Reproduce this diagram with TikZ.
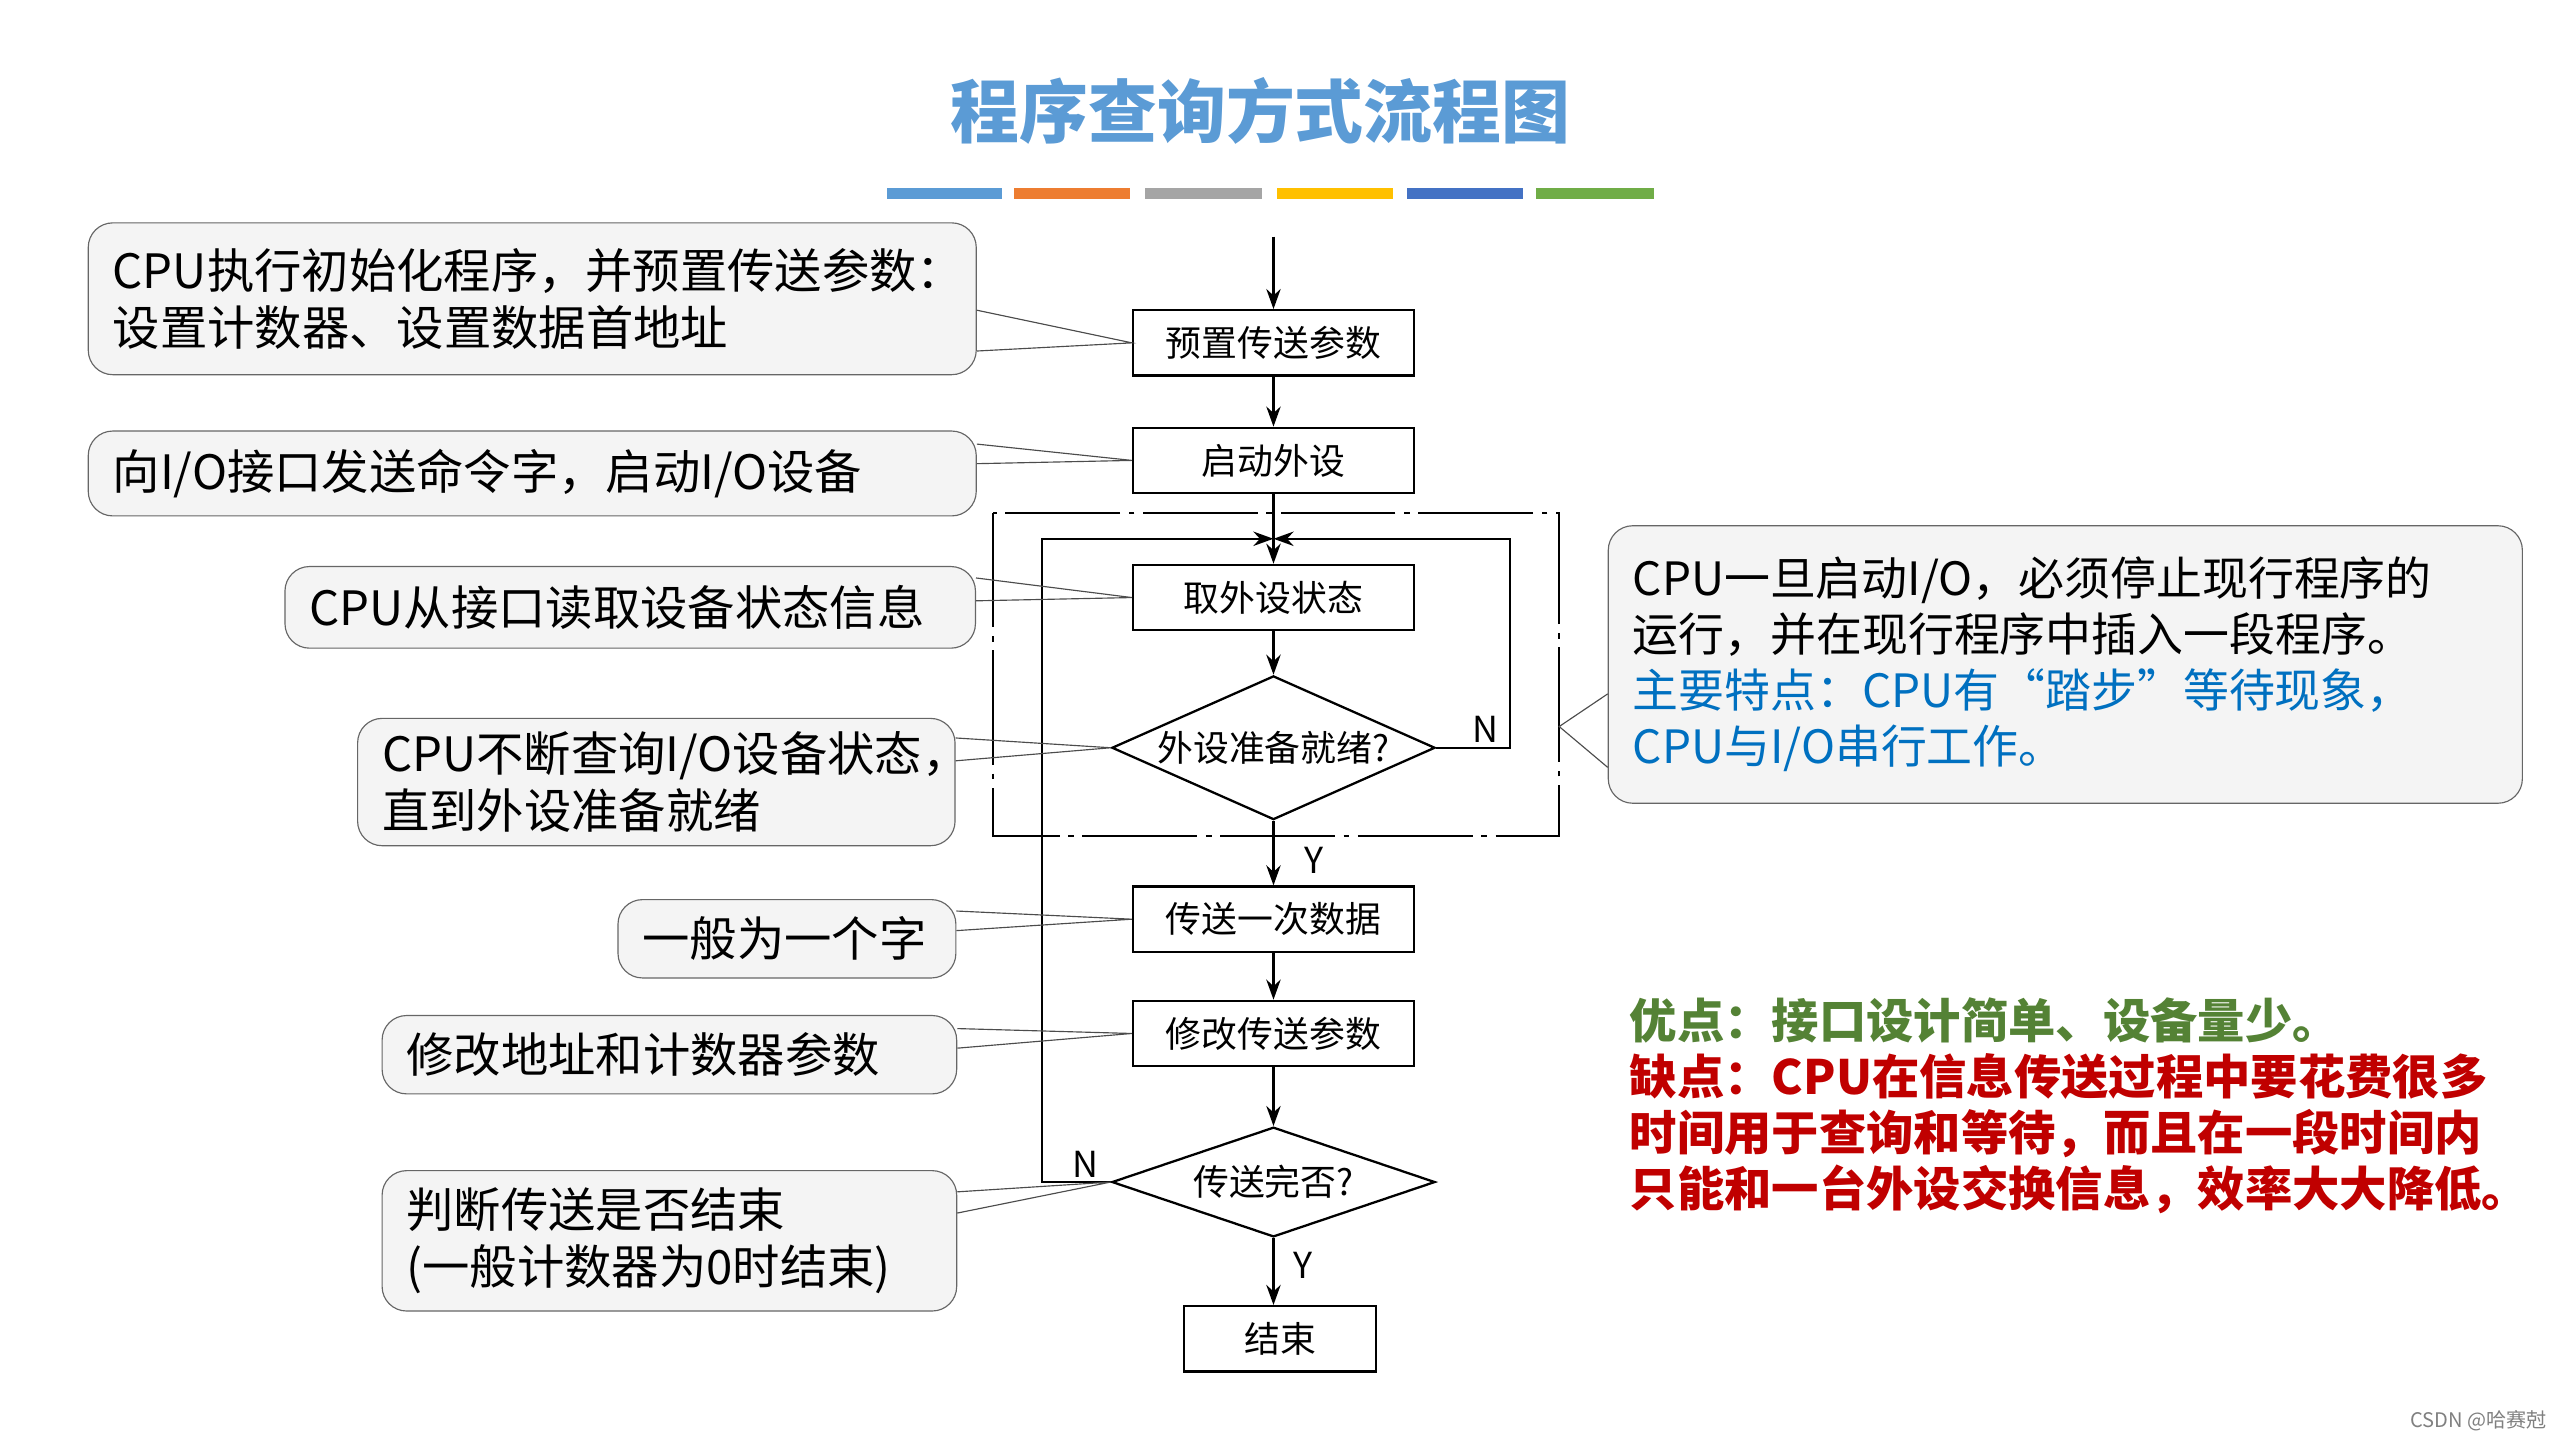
\documentclass[tikz,border=0pt]{standalone}
\usepackage{fontspec}
\setmainfont{Noto Sans CJK SC}
\usetikzlibrary{shapes.geometric,arrows.meta}
\definecolor{titleblue}{RGB}{91,155,213}
\definecolor{bar1}{RGB}{91,155,213}
\definecolor{bar2}{RGB}{237,125,49}
\definecolor{bar3}{RGB}{165,165,165}
\definecolor{bar4}{RGB}{255,192,0}
\definecolor{bar5}{RGB}{68,114,196}
\definecolor{bar6}{RGB}{112,173,71}
\definecolor{okgreen}{RGB}{84,130,53}
\definecolor{badred}{RGB}{192,0,0}
\definecolor{featblue}{RGB}{0,112,192}
\definecolor{callfill}{RGB}{244,244,244}
\begin{document}
\begin{tikzpicture}[x=0.02cm,y=-0.02cm,
  box/.style={draw,thick,minimum width=3.44cm,minimum height=0.8cm,inner sep=0pt,
    font=\fontsize{12.5}{14}\selectfont},
  dec/.style={draw,thick,diamond,shape aspect=2.1,minimum width=3.96cm,inner sep=0pt,
    font=\fontsize{12.5}{14}\selectfont},
  call/.style={draw=black!60,fill=callfill,rounded corners=0.3cm,inner xsep=0.3cm,inner ysep=0pt,
    text width=#1,align=left,font=\fontsize{16.5}{20}\selectfont},
  ptr/.style={draw=black!70,thin},
  flow/.style={thick,-{Stealth[length=7pt,width=5pt]}},
  lab/.style={font=\fontsize{12.5}{14}\selectfont}]
\useasboundingbox (0,0) rectangle (1568,882);
% title and colour bars
\node[font=\fontsize{24}{28}\selectfont\bfseries,text=titleblue] (title) at (772,68) {程序查询方式流程图};
\foreach \a/\b/\c in {543/614/bar1,621/692/bar2,701/773/bar3,782/853/bar4,862/933/bar5,941/1013/bar6}
  \fill[\c] (\a,115) rectangle (\b,122);
% dash-dot frame
\draw[thick,dash pattern=on 40pt off 3pt on 2pt off 3pt] (608,314) rectangle (955,512);
% flow nodes
\coordinate (start) at (780,145);
\node[box] (b1) at (780,210) {预置传送参数};
\node[box] (b2) at (780,282) {启动外设};
\node[box] (b3) at (780,366) {取外设状态};
\node[dec] (d1) at (780,458) {外设准备就绪?};
\node[box] (b4) at (780,563) {传送一次数据};
\node[box] (b5) at (780,633) {修改传送参数};
\node[dec] (d2) at (780,724) {传送完否?};
\node[box,minimum width=2.36cm] (b6) at (784,820) {结束};
\coordinate (join) at (780,330);
\draw[flow] (start) -- (b1);
\draw[flow] (b1) -- (b2);
\draw[flow] (b2) -- (b3);
\draw[flow] (b3) -- (d1);
\draw[flow] (d1) -- (b4);
\draw[flow] (b4) -- (b5);
\draw[flow] (b5) -- (d2);
\draw[flow] (d2.south) -- (d2.south |- b6.north);
\draw[flow] (d1.east) -- (925,458) -- (925,330) -- (join);
\draw[flow] (d2.west) -- (638,724) -- (638,330) -- (join);
\node[lab] (n1) at (910,447) {N};
\node[lab] (y1) at (805,527) {Y};
\node[lab] (n2) at (665,713) {N};
\node[lab] (y2) at (798,775) {Y};
% callouts
\node[call=10.28cm,minimum height=1.86cm] (c1) at (326,183)
  {CPU执行初始化程序，并预置传送参数：\\设置计数器、设置数据首地址};
\draw[ptr] (c1.east |- 0,190) -- (b1.west) -- (c1.east |- 0,215);
\node[call=10.28cm,minimum height=1.04cm] (c2) at (326,290)
  {向I/O接口发送命令字，启动I/O设备};
\draw[ptr] (c2.east |- 0,272) -- (b2.west) -- (c2.east |- 0,284);
\node[call=7.86cm,minimum height=1.0cm] (c3) at (386,372)
  {CPU从接口读取设备状态信息};
\draw[ptr] (c3.east |- 0,354) -- (b3.west) -- (c3.east |- 0,368);
\node[call=6.72cm,minimum height=1.56cm] (c4) at (402,479)
  {CPU不断查询I/O设备状态，\\直到外设准备就绪};
\draw[ptr] (c4.east |- 0,452) -- (d1.west) -- (c4.east |- 0,466);
\node[call=3.54cm,minimum height=0.96cm] (c5) at (482,575)
  {一般为一个字};
\draw[ptr] (c5.east |- 0,558) -- (b4.west) -- (c5.east |- 0,570);
\node[call=6.44cm,minimum height=0.96cm] (c6) at (410,646)
  {修改地址和计数器参数};
\draw[ptr] (c6.east |- 0,630) -- (b5.west) -- (c6.east |- 0,642);
\node[call=6.44cm,minimum height=1.72cm] (c7) at (410,760)
  {判断传送是否结束\\(一般计数器为0时结束)};
\draw[ptr] (c7.east |- 0,730) -- (d2.west) -- (c7.east |- 0,743);
\node[call=10.6cm,minimum height=3.4cm,font=\fontsize{16}{19.5}\selectfont] (c8) at (1265,407)
  {CPU一旦启动I/O，必须停止现行程序的\\运行，并在现行程序中插入一段程序。\\
   \textcolor{featblue}{主要特点：CPU有“踏步”等待现象，}\\\textcolor{featblue}{CPU与I/O串行工作。}};
\coordinate (frame) at (955,445);
\draw[ptr] (c8.west |- 0,425) -- (frame) -- (c8.west |- 0,470);
% pros and cons
\node[anchor=north west,align=left,font=\fontsize{16.5}{19.5}\selectfont\bfseries,inner sep=0pt] (pc) at (998,611)
  {\textcolor{okgreen}{优点：接口设计简单、设备量少。}\\
   \textcolor{badred}{缺点：CPU在信息传送过程中要花费很多}\\
   \textcolor{badred}{时间用于查询和等待，而且在一段时间内}\\
   \textcolor{badred}{只能和一台外设交换信息，效率大大降低。}};
\node[text=black!50,font=\fontsize{7}{8}\selectfont] (wm) at (1518,870) {CSDN @哈赛尅};
\end{tikzpicture}
\end{document}
